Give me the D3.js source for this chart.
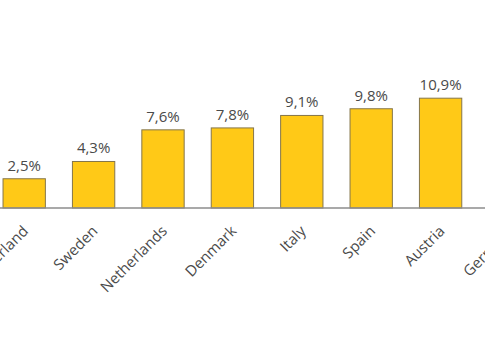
<!DOCTYPE html>
<html>
<head>
<meta charset="utf-8">
<script src="https://cdn.jsdelivr.net/npm/d3@7"></script>
<style>
  body { margin: 0; background: #fff; }
  svg { display: block; font-family: "Open Sans", sans-serif; }
</style>
</head>
<body>
<div id="chart"></div>
<script>
// data (chart is cropped: Germany's bar falls outside the view)
const countries = ["Switzerland", "Sweden", "Netherlands", "Denmark", "Italy", "Spain", "Austria", "Germany"];
const shares = [2.5, 4.3, 7.6, 7.8, 9.1, 9.8, 10.9, 12.4];
const shareLabels = ["2,5%", "4,3%", "7,6%", "7,8%", "9,1%", "9,8%", "10,9%", "12,4%"];

const width = 485, height = 360;
const baseline = 208;

const svg = d3.select("#chart").append("svg")
    .attr("width", width)
    .attr("height", height);

let x = d3.scaleBand()
    .domain(countries)
    .range([-10.5, 544.7])
    .paddingInner(0.39)
    .paddingOuter(0.195);

let y = d3.scaleLinear()
    .domain([-0.55, 11])
    .range([baseline, baseline - 11.55 * 9.59]);

// bars
svg.selectAll("rect.bar")
    .data(countries)
    .join("rect")
    .attr("class", "bar")
    .attr("x", d => x(d))
    .attr("width", x.bandwidth())
    .attr("y", (d, i) => y(shares[i]))
    .attr("height", (d, i) => y(y.domain()[0]) - y(shares[i]))
    .style("fill", "#ffc917")
    .style("stroke", "#85764a")
    .style("stroke-width", 1);

// baseline
svg.append("line")
    .attr("x1", 0).attr("x2", width)
    .attr("y1", baseline).attr("y2", baseline)
    .style("stroke", "#8c8c8c")
    .style("stroke-width", 1.5);

// value labels
svg.selectAll("text.value")
    .data(countries)
    .join("text")
    .attr("class", "value")
    .attr("x", d => x(d) + x.bandwidth() / 2)
    .attr("y", (d, i) => y(shares[i]) - 8)
    .attr("text-anchor", "middle")
    .style("font-size", "15px")
    .style("fill", "#4a4a4a")
    .text((d, i) => shareLabels[i]);

// category labels, rotated
svg.selectAll("text.cat")
    .data(countries)
    .join("text")
    .attr("class", "cat")
    .attr("text-anchor", "end")
    .attr("transform", d => `translate(${x(d) + x.bandwidth() / 2 + 5},${baseline + 24}) rotate(-45)`)
    .style("font-size", "15px")
    .style("fill", "#4a4a4a")
    .text(d => d);
</script>
</body>
</html>
